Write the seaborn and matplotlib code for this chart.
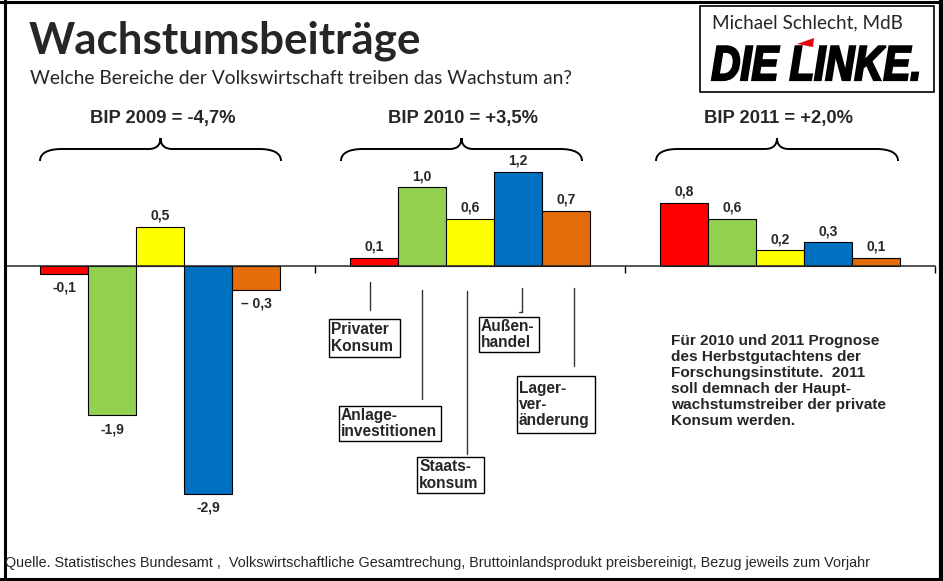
import numpy as np
import pandas as pd
import matplotlib
matplotlib.use("Agg")
import matplotlib.pyplot as plt
import seaborn as sns
from matplotlib.path import Path
from matplotlib.patches import PathPatch, Rectangle, Polygon
from matplotlib.lines import Line2D
from matplotlib.textpath import TextPath
from matplotlib.font_manager import FontProperties
from matplotlib.transforms import Affine2D

sns.set_style("white")
plt.rcParams['font.family'] = ['Liberation Sans', 'DejaVu Sans']

W, H = 943, 581

years = ["2009", "2010", "2011"]
components = ["Privater Konsum", "Anlageinvestitionen", "Staatskonsum", "Außenhandel", "Lagerveränderung"]
colors = ["#FF0000", "#92D050", "#FFFF00", "#0070C0", "#E46C0A"]
values_2009 = [-0.1, -1.9, 0.5, -2.9, -0.3]
values_2010 = [0.1, 1.0, 0.6, 1.2, 0.7]
values_2011 = [0.8, 0.6, 0.2, 0.3, 0.1]
bip_labels = ["BIP 2009 = -4,7%", "BIP 2010 = +3,5%", "BIP 2011 = +2,0%"]
box_labels = ["Privater\nKonsum", "Anlage-\ninvestitionen", "Staats-\nkonsum", "Außen-\nhandel", "Lager-\nver-\nänderung"]

rows = []
for year, vals in zip(years, [values_2009, values_2010, values_2011]):
    for comp, v in zip(components, vals):
        rows.append({"year": year, "component": comp, "value": v})
df = pd.DataFrame(rows)


def fx(x):
    return x / W


def fy(y):
    return 1 - y / H


fig = plt.figure(figsize=(W / 100, H / 100), dpi=100)
fig.patch.set_facecolor("white")
# pixel transform, y measured from the bottom
px_trans = Affine2D().scale(1 / W, 1 / H) + fig.transFigure

# axes: x 5..935 px, y 100..520 px, zero at 266, 78.6 px per unit
ax_top, ax_bot, zero_y, ppu = 100, 520, 266, 78.6
ax = fig.add_axes([fx(5), fy(ax_bot), (935 - 5) / W, (ax_bot - ax_top) / H])
sns.barplot(data=df, x="year", y="value", hue="component", palette=colors,
            width=240 / 310, edgecolor="black", linewidth=0.8, legend=False,
            saturation=1, ax=ax)
ax.set_xlim(-0.5, 2.5)
ax.set_ylim(-(ax_bot - zero_y) / ppu, (zero_y - ax_top) / ppu)
for s in ax.spines.values():
    s.set_visible(False)
ax.spines["bottom"].set_visible(True)
ax.spines["bottom"].set_position(("data", 0))
ax.spines["bottom"].set_linewidth(1.1)
ax.spines["bottom"].set_zorder(4)
ax.set_xticks([-0.5, 0.5, 1.5, 2.5])
ax.set_xticklabels([])
ax.tick_params(axis="x", direction="out", length=5, width=1, color="black", bottom=True)
ax.set_yticks([])
ax.set_xlabel("")
ax.set_ylabel("")
ax.patch.set_alpha(0)

# value labels
for container in ax.containers:
    for bar in container:
        v = bar.get_height()
        xc = bar.get_x() + bar.get_width() / 2
        txt = f"{abs(v):.1f}".replace(".", ",")
        if v < 0:
            txt = ("– " if abs(v + 0.3) < 1e-9 else "-") + txt
            ax.annotate(txt, (xc, v), xytext=(0, -5), textcoords="offset points",
                        ha="center", va="top", fontsize=10, fontweight="bold")
        else:
            ax.annotate(txt, (xc, v), xytext=(0, 3), textcoords="offset points",
                        ha="center", va="bottom", fontsize=10, fontweight="bold")

# title block
fig.text(fx(29), fy(41), "Wachstumsbeiträge", fontsize=31.7, fontweight="bold",
         family=["Lato", "DejaVu Sans"], va="center", ha="left")
fig.text(fx(30), fy(78), "Welche Bereiche der Volkswirtschaft treiben das Wachstum an?",
         fontsize=13.9, family=["Lato", "DejaVu Sans"], va="center", ha="left")

# logo box
fig.patches.append(Rectangle((fx(700), fy(92)), (934 - 700) / W, (92 - 6) / H,
                             transform=fig.transFigure, fill=False, ec="black", lw=1.2))
fig.text(fx(712), fy(23), "Michael Schlecht, MdB", fontsize=13.6,
         family=["Lato", "DejaVu Sans"], va="center", ha="left")

logo_prop = FontProperties(family="Liberation Sans", weight="bold", style="italic")
tp = TextPath((0, 0), "DIE LINKE.", size=1, prop=logo_prop)
ext = tp.get_extents()
sx = 206 / ext.width
sy = 35 / 0.716
logo_tr = Affine2D().translate(-ext.x0, 0).scale(sx, sy).translate(712, H - 80) + px_trans
fig.patches.append(PathPatch(tp, transform=logo_tr, fc="black", ec="black", lw=1.6))
fig.patches.append(Polygon([(fx(797), fy(44)), (fx(814), fy(38)), (fx(813), fy(47))],
                           closed=True, transform=fig.transFigure, fc="#E30613", ec="none"))

# braces and BIP labels
brace_spans = [(40, 281), (341, 582), (656, 898)]
for (x0, x1), lab in zip(brace_spans, bip_labels):
    xc = (x0 + x1) / 2
    ye, ym, yt = 161, 149, 138
    verts = [(x0, ye), (x0, 153), (x0 + 8, ym), (x0 + 22, ym),
             (xc - 12, ym),
             (xc - 4, ym), (xc, 145), (xc, yt),
             (xc, 145), (xc + 4, ym), (xc + 12, ym),
             (x1 - 22, ym),
             (x1 - 8, ym), (x1, 153), (x1, ye)]
    codes = [Path.MOVETO, Path.CURVE4, Path.CURVE4, Path.CURVE4,
             Path.LINETO,
             Path.CURVE4, Path.CURVE4, Path.CURVE4,
             Path.CURVE4, Path.CURVE4, Path.CURVE4,
             Path.LINETO,
             Path.CURVE4, Path.CURVE4, Path.CURVE4]
    path = Path([(fx(a), fy(b)) for a, b in verts], codes)
    fig.patches.append(PathPatch(path, transform=fig.transFigure, fill=False, lw=1.4, ec="black"))
    fig.text(fx(xc + 2), fy(119), lab, fontsize=13.2, fontweight="bold", ha="center", va="center")

# category boxes with connector lines (x, y_top, y_bottom of line; box left, top, right, bottom)
lines_px = [(370, 282, 310), (422, 290, 399), (467, 291, 454), (522, 288, 312), (574, 288, 366)]
boxes_px = [(329, 319, 400, 357), (339, 406, 441, 441), (417, 457, 484, 493),
            (479, 317, 539, 352), (517, 376, 595, 433)]
for (lx, ly0, ly1), (bx0, by0, bx1, by1), lab in zip(lines_px, boxes_px, box_labels):
    fig.lines.append(Line2D([fx(lx), fx(lx)], [fy(ly0), fy(ly1)], transform=fig.transFigure,
                            color="#333333", lw=1.0))
    fig.patches.append(Rectangle((fx(bx0), fy(by1)), (bx1 - bx0) / W, (by1 - by0) / H,
                                 transform=fig.transFigure, fill=True, fc="white", ec="black", lw=1.0))
    fig.text(fx(bx0 + 2), fy((by0 + by1) / 2), lab, fontsize=11.2, fontweight="bold",
             ha="left", va="center", linespacing=1.12)
# small hook at the Außenhandel line
fig.lines.append(Line2D([fx(519), fx(522)], [fy(312), fy(312)], transform=fig.transFigure,
                        color="#333333", lw=1.0))

# note text
note = ("Für 2010 und 2011 Prognose\ndes Herbstgutachtens der\nForschungsinstitute.  2011\n"
        "soll demnach der Haupt-\nwachstumstreiber der private\nKonsum werden.")
fig.text(fx(671), fy(334), note, fontsize=11.1, fontweight="bold", ha="left", va="top",
         linespacing=1.19)

# footer
fig.text(fx(5), fy(563), "Quelle. Statistisches Bundesamt ,  Volkswirtschaftliche Gesamtrechung, "
         "Bruttoinlandsprodukt preisbereinigt, Bezug jeweils zum Vorjahr",
         fontsize=10.4, ha="left", va="center")

# outer frame
for xs, ys, lw in [((4.5, 4.5), (0, 580), 2.2), ((0, 943), (1.5, 1.5), 2.2),
                   ((941, 941), (0, 581), 3.0), ((0, 943), (578.5, 578.5), 2.2)]:
    fig.lines.append(Line2D([fx(xs[0]), fx(xs[1])], [fy(ys[0]), fy(ys[1])],
                            transform=fig.transFigure, color="black", lw=lw))

fig.savefig("out.png", dpi=100)
